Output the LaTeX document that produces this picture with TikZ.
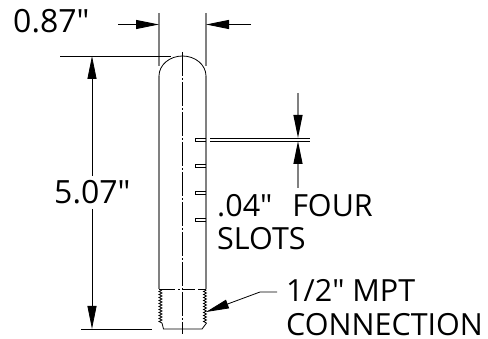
\documentclass[tikz,border=0pt]{standalone}
\usepackage{fontspec}
\setmainfont{Open Sans}[Ligatures=TeXOff]
\usetikzlibrary{arrows.meta}
\newcommand{\tubeBody}{%%
  %% The two walls and the round end.
  \draw[wallStyle] (wallLeft) -- (threadLeft);
  \draw[wallStyle] (wallRight) -- (threadRight);
  \draw[lineStyle] (wallLeft) arc[start angle=180,end angle=360,x radius=23.5,y radius=20];
  %% The centre line.
  \draw[centerStyle] (centerTop) -- (centerEnd);
}
\newcommand{\threadSide}[1]{%%
  \draw[lineStyle,line width=0.7pt] (#1,290)
    \foreach \i in {1,...,11} { -- ++(-3,1.5) -- ++(3,1.5) };
}
\newcommand{\slotMark}[1]{%%
  \draw[lineStyle] (206,#1-1.5) -- (195,#1-1.5) -- (195,#1+1.5) -- (206,#1+1.5);
}
\begin{document}
\begin{tikzpicture}[%%
  x=1pt,y=-1pt,%%
  lineStyle/.style={-,line width=0.8pt,black},%%
  wallStyle/.style={-,line width=1.5pt,black!50},%%
  centerStyle/.style={-,line width=0.8pt,dash pattern=on 24pt off 2pt on 2pt off 2pt},%%
  dimStyle/.style={-{Triangle[length=23pt,width=9pt,black]},line width=0.8pt,black},%%
  labelStyle/.style={font=\fontsize{30.5}{36}\selectfont,inner sep=0pt,anchor=base west},%%
  sizeStyle/.style={labelStyle,font=\fontsize{32}{38}\selectfont}
]
\useasboundingbox (0,0) rectangle (488,339);
%%
%%
\coordinate (wallLeft) at (159,76);
\coordinate (wallRight) at (206,76);
\coordinate (threadLeft) at (159,289);
\coordinate (threadRight) at (206,289);
\coordinate (centerTop) at (182.5,52);
\coordinate (centerEnd) at (182.5,334);
%%
%%
%% The tube with its threaded end.
\tubeBody
\draw[lineStyle,dash pattern=on 16pt off 3pt on 2pt off 3pt on 12pt off 3pt on 30pt] (threadLeft) -- (threadRight);
\threadSide{162}
\threadSide{206.5}
\coordinate (chamferLeft) at (162,323);
\coordinate (chamferRight) at (206.5,323);
\coordinate (baseLeft) at (163.5,329);
\coordinate (baseRight) at (202,329);
\draw[lineStyle] (chamferLeft) -- (baseLeft) -- (baseRight) -- (chamferRight);
%% The slots.
\slotMark{139.5}
\slotMark{166}
\slotMark{193}
\slotMark{220}
%%
%%
%% Width of the tube.
\coordinate (widthLeft) at (159,13);
\coordinate (widthLeftEnd) at (159,66);
\coordinate (widthRight) at (206,13);
\coordinate (widthRightEnd) at (206,66);
\draw[wallStyle] (widthLeft) -- (widthLeftEnd);
\draw[wallStyle] (widthRight) -- (widthRightEnd);
\coordinate (arrowLeft) at (118,24.5);
\coordinate (tipLeft) at (159,24.5);
\coordinate (arrowRight) at (251,24.5);
\coordinate (tipRight) at (206,24.5);
\draw[dimStyle] (arrowLeft) -- (tipLeft);
\draw[dimStyle] (arrowRight) -- (tipRight);
\node[sizeStyle] (widthLabel) at (13,32.5) {0.87"};
%%
%%
%% Length of the tube.
\coordinate (topStart) at (60,56);
\coordinate (topEnd) at (171,56);
\coordinate (baseStart) at (81,329);
\coordinate (baseEnd) at (152,329);
\draw[lineStyle] (topStart) -- (topEnd);
\draw[lineStyle] (baseStart) -- (baseEnd);
\node[sizeStyle] (lengthLabel) at (54,204) {5.07"};
\coordinate (lengthTop) at (92,56);
\coordinate (lengthBase) at (92,329);
\coordinate (lengthUp) at (92,176);
\coordinate (lengthDown) at (92,209);
\draw[dimStyle] (lengthUp) -- (lengthTop);
\draw[dimStyle] (lengthDown) -- (lengthBase);
%%
%%
%% Width of a slot.
\coordinate (slotStart) at (210,138);
\coordinate (slotEnd) at (310,138);
\coordinate (slotStartB) at (210,141);
\coordinate (slotEndB) at (310,141);
\draw[lineStyle] (slotStart) -- (slotEnd);
\draw[lineStyle] (slotStartB) -- (slotEndB);
\coordinate (slotTop) at (298,93);
\coordinate (slotTipA) at (298,138);
\coordinate (slotBase) at (298,188);
\coordinate (slotTipB) at (298,141);
\draw[dimStyle,line width=1.2pt,draw=black!50] (slotTop) -- (slotTipA);
\draw[dimStyle,line width=1.2pt,draw=black!50] (slotBase) -- (slotTipB);
\node[labelStyle] (slotLabel) at (217,217) {.04"\ \ \kern4pt FOUR};
\node[labelStyle] (slotLabelB) at (217,250) {SLOTS};
%%
%%
%% The connection.
\node[labelStyle] (connLabel) at (286,302) {1/2" MPT};
\node[labelStyle] (connLabelB) at (286,336) {CONNECTION};
\coordinate (leaderStart) at (277,292);
\coordinate (leaderBend) at (260,292);
\coordinate (leaderTip) at (206,312);
\draw[dimStyle] (leaderStart) -- (leaderBend) -- (leaderTip);
\end{tikzpicture}
\end{document}
